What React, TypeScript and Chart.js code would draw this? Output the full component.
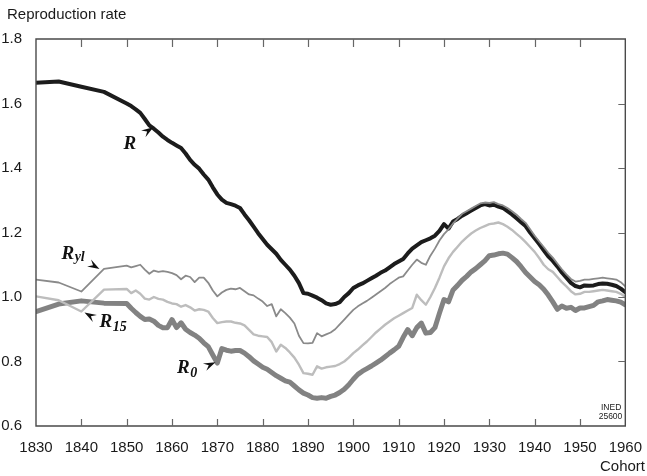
import { useEffect, useRef } from 'react';
import { Chart, registerables } from 'chart.js';

Chart.register(...registerables);

// Cohort years: quinquennial to 1850, then annual
const years = [
  1830, 1835, 1840, 1845, 1850,
  1851, 1852, 1853, 1854, 1855, 1856, 1857, 1858, 1859, 1860,
  1861, 1862, 1863, 1864, 1865, 1866, 1867, 1868, 1869, 1870,
  1871, 1872, 1873, 1874, 1875, 1876, 1877, 1878, 1879, 1880,
  1881, 1882, 1883, 1884, 1885, 1886, 1887, 1888, 1889, 1890,
  1891, 1892, 1893, 1894, 1895, 1896, 1897, 1898, 1899, 1900,
  1901, 1902, 1903, 1904, 1905, 1906, 1907, 1908, 1909, 1910,
  1911, 1912, 1913, 1914, 1915, 1916, 1917, 1918, 1919, 1920,
  1921, 1922, 1923, 1924, 1925, 1926, 1927, 1928, 1929, 1930,
  1931, 1932, 1933, 1934, 1935, 1936, 1937, 1938, 1939, 1940,
  1941, 1942, 1943, 1944, 1945, 1946, 1947, 1948, 1949, 1950,
  1951, 1952, 1953, 1954, 1955, 1956, 1957, 1958, 1959, 1960,
];

// R : gross reproduction rate
const rGross = [
  1.664, 1.668, 1.652, 1.636, 1.600,
  1.592, 1.582, 1.571, 1.552, 1.532, 1.522, 1.510, 1.497, 1.487, 1.478,
  1.470, 1.462, 1.445, 1.425, 1.410, 1.398, 1.380, 1.364, 1.340, 1.318,
  1.302, 1.292, 1.288, 1.283, 1.276, 1.256, 1.238, 1.218, 1.198, 1.180,
  1.162, 1.148, 1.134, 1.115, 1.100, 1.085, 1.066, 1.043, 1.012, 1.010,
  1.004, 0.998, 0.990, 0.980, 0.976, 0.978, 0.984, 1.000, 1.012, 1.028,
  1.036, 1.042, 1.050, 1.058, 1.066, 1.075, 1.082, 1.092, 1.102, 1.110,
  1.118, 1.135, 1.150, 1.160, 1.170, 1.176, 1.182, 1.190, 1.205, 1.226,
  1.212, 1.234, 1.242, 1.252, 1.260, 1.268, 1.276, 1.284, 1.288, 1.284,
  1.286, 1.280, 1.276, 1.266, 1.256, 1.244, 1.232, 1.220, 1.200, 1.182,
  1.164, 1.145, 1.126, 1.112, 1.095, 1.076, 1.060, 1.044, 1.034, 1.030,
  1.036, 1.035, 1.036, 1.040, 1.042, 1.041, 1.038, 1.034, 1.026, 1.015,
];

// R_yl
const rYl = [
  1.054, 1.045, 1.017, 1.087, 1.097,
  1.092, 1.096, 1.100, 1.085, 1.072, 1.082, 1.078, 1.080, 1.078, 1.074,
  1.068, 1.055, 1.066, 1.062, 1.046, 1.060, 1.060, 1.044, 1.020, 1.002,
  1.014, 1.022, 1.026, 1.024, 1.028, 1.018, 1.008, 1.005, 0.995, 0.986,
  0.972, 0.978, 0.940, 0.962, 0.950, 0.936, 0.918, 0.880, 0.857, 0.856,
  0.858, 0.888, 0.878, 0.884, 0.890, 0.900, 0.915, 0.930, 0.945, 0.960,
  0.971, 0.980, 0.988, 0.998, 1.008, 1.018, 1.028, 1.040, 1.050, 1.060,
  1.064, 1.082, 1.100, 1.116, 1.106, 1.100, 1.128, 1.150, 1.175, 1.195,
  1.210, 1.228, 1.243, 1.258, 1.266, 1.274, 1.282, 1.290, 1.293, 1.292,
  1.294, 1.288, 1.284, 1.276, 1.266, 1.255, 1.242, 1.230, 1.210, 1.190,
  1.172, 1.155, 1.137, 1.122, 1.104, 1.086, 1.070, 1.056, 1.048, 1.050,
  1.054, 1.054, 1.056, 1.058, 1.060, 1.058, 1.056, 1.054, 1.046, 1.033,
];

// R_15
const r15 = [
  1.002, 0.990, 0.955, 1.023, 1.025,
  1.012, 1.020, 1.010, 0.995, 0.992, 1.000, 0.994, 0.992, 0.985, 0.980,
  0.978, 0.970, 0.975, 0.968, 0.958, 0.962, 0.960, 0.955, 0.935, 0.919,
  0.922, 0.924, 0.924, 0.920, 0.918, 0.912, 0.898, 0.884, 0.880, 0.878,
  0.876, 0.860, 0.831, 0.852, 0.842, 0.828, 0.812, 0.790, 0.764, 0.762,
  0.759, 0.785, 0.778, 0.782, 0.784, 0.786, 0.792, 0.800, 0.812, 0.826,
  0.837, 0.850, 0.862, 0.876, 0.890, 0.902, 0.914, 0.924, 0.934, 0.942,
  0.950, 0.958, 0.966, 1.007, 0.990, 0.976, 1.000, 1.028, 1.060, 1.095,
  1.120, 1.140, 1.156, 1.172, 1.185, 1.197, 1.206, 1.214, 1.220, 1.226,
  1.228, 1.231, 1.226, 1.218, 1.208, 1.196, 1.184, 1.170, 1.155, 1.140,
  1.121, 1.100, 1.086, 1.078, 1.062, 1.046, 1.033, 1.018, 1.008, 1.010,
  1.016, 1.016, 1.018, 1.020, 1.022, 1.020, 1.018, 1.016, 1.010, 1.000,
];

// R_0 : net reproduction rate
const r0 = [
  0.955, 0.978, 0.988, 0.981, 0.980,
  0.965, 0.952, 0.940, 0.930, 0.932, 0.925, 0.912, 0.905, 0.905, 0.930,
  0.905, 0.920, 0.900, 0.890, 0.882, 0.872, 0.858, 0.846, 0.820, 0.795,
  0.840, 0.835, 0.832, 0.834, 0.834, 0.826, 0.815, 0.802, 0.792, 0.782,
  0.776, 0.766, 0.756, 0.748, 0.740, 0.736, 0.724, 0.712, 0.702, 0.696,
  0.688, 0.686, 0.688, 0.686, 0.692, 0.696, 0.704, 0.714, 0.728, 0.745,
  0.760, 0.770, 0.778, 0.786, 0.795, 0.804, 0.815, 0.826, 0.836, 0.847,
  0.875, 0.899, 0.880, 0.905, 0.919, 0.888, 0.890, 0.905, 0.950, 0.992,
  0.985, 1.022, 1.036, 1.052, 1.064, 1.078, 1.088, 1.100, 1.112, 1.128,
  1.130, 1.134, 1.136, 1.133, 1.122, 1.110, 1.094, 1.076, 1.062, 1.048,
  1.038, 1.024, 1.006, 0.985, 0.962, 0.972, 0.965, 0.968, 0.958, 0.966,
  0.966, 0.970, 0.974, 0.985, 0.988, 0.992, 0.990, 0.988, 0.984, 0.976,
];

const xTicks = [1830, 1840, 1850, 1860, 1870, 1880, 1890, 1900, 1910, 1920, 1930, 1940, 1950, 1960];
const yTicks = [0.6, 0.8, 1.0, 1.2, 1.4, 1.6, 1.8];

const yTitle = 'Reproduction rate';
const xTitle = 'Cohort';
const sourceNote = ['INED', '25600'];

// Series labels: arrow tip in data units, arrow direction and text offsets in px
const seriesLabels = [
  { main: 'R', sub: '', year: 1855.9, value: 1.526, dx: 14, dy: -9, tx: -30, ty: 22, subDy: 0 },
  { main: 'R', sub: 'yl', year: 1844.0, value: 1.087, dx: 13, dy: 7.5, tx: -38, ty: -10, subDy: 2 },
  { main: 'R', sub: '15', year: 1840.7, value: 0.952, dx: -12, dy: -7, tx: 15, ty: 14.5, subDy: 4.5 },
  { main: 'R', sub: '0', year: 1869.6, value: 0.798, dx: 15, dy: -7, tx: -38.5, ty: 10.8, subDy: 3.6 },
];

const SANS = '"Liberation Sans", Arial, Helvetica, sans-serif';
const SERIF = '"Liberation Serif", "Times New Roman", Times, serif';

const framePlugin = {
  id: 'frameAndNotes',
  afterDatasetsDraw(chart: any) {
    const { ctx, chartArea } = chart;
    const { left, right, top, bottom } = chartArea;
    const xs = chart.scales.x;
    const ys = chart.scales.y;
    ctx.save();
    // frame
    ctx.strokeStyle = '#4a4a4a';
    ctx.lineWidth = 1.4;
    ctx.beginPath();
    ctx.rect(left, top, right - left, bottom - top);
    ctx.stroke();
    // inward ticks
    ctx.strokeStyle = '#666';
    ctx.lineWidth = 1.2;
    ctx.beginPath();
    xTicks.forEach((t) => {
      if (t === xTicks[0] || t === xTicks[xTicks.length - 1]) return;
      const px = Math.round(xs.getPixelForValue(t)) + 0.5;
      ctx.moveTo(px, top);
      ctx.lineTo(px, top + 8);
      ctx.moveTo(px, bottom);
      ctx.lineTo(px, bottom - 7);
    });
    yTicks.forEach((t, i) => {
      if (i === 0 || i === yTicks.length - 1) return;
      const py = Math.round(ys.getPixelForValue(t)) + 0.5;
      ctx.moveTo(right, py);
      ctx.lineTo(right - 7, py);
    });
    ctx.stroke();

    // titles
    ctx.fillStyle = '#1a1a1a';
    ctx.font = `15px ${SANS}`;
    ctx.textBaseline = 'alphabetic';
    ctx.textAlign = 'left';
    ctx.fillText(yTitle, 7, 19);
    ctx.textAlign = 'right';
    ctx.fillText(xTitle, 645, 471);
    ctx.font = `8.5px ${SANS}`;
    ctx.fillText(sourceNote[0], right - 4, 410);
    ctx.fillText(sourceNote[1], right - 3, 418.5);

    // series labels with arrowheads
    ctx.fillStyle = '#111';
    seriesLabels.forEach((l) => {
      const tipX = xs.getPixelForValue(l.year);
      const tipY = ys.getPixelForValue(l.value);
      const ang = Math.atan2(l.dy, l.dx);
      const len = 12;
      const hw = 4;
      ctx.save();
      ctx.translate(tipX, tipY);
      ctx.rotate(ang);
      ctx.beginPath();
      ctx.moveTo(0, 0);
      ctx.lineTo(-len, -hw);
      ctx.lineTo(-len * 0.62, 0);
      ctx.lineTo(-len, hw);
      ctx.closePath();
      ctx.fill();
      ctx.restore();

      ctx.textAlign = 'left';
      ctx.font = `bold italic 19px ${SERIF}`;
      const bx = tipX + l.tx;
      const by = tipY + l.ty;
      ctx.fillText(l.main, bx, by);
      if (l.sub) {
        const w = ctx.measureText(l.main).width;
        ctx.font = `bold italic 14px ${SERIF}`;
        ctx.fillText(l.sub, bx + w + 0.5, by + l.subDy);
      }
    });
    ctx.restore();
  },
};

function toPoints(vals: number[]) {
  return years.map((y, i) => ({ x: y, y: vals[i] }));
}

export default function App() {
  const ref = useRef<HTMLCanvasElement | null>(null);

  useEffect(() => {
    if (!ref.current) return;
    const common = {
      pointRadius: 0,
      pointHoverRadius: 0,
      tension: 0,
      fill: false,
      borderJoinStyle: 'round' as const,
      borderCapStyle: 'round' as const,
    };
    const chart = new Chart(ref.current, {
      type: 'line',
      data: {
        datasets: [
          { ...common, label: 'R_yl', data: toPoints(rYl), borderColor: '#8a8a8a', borderWidth: 1.8, order: 0 },
          { ...common, label: 'R', data: toPoints(rGross), borderColor: '#1c1c1c', borderWidth: 4, order: 1 },
          { ...common, label: 'R_15', data: toPoints(r15), borderColor: '#bdbdbd', borderWidth: 2.4, order: 2 },
          { ...common, label: 'R_0', data: toPoints(r0), borderColor: '#828282', borderWidth: 5, order: 3 },
        ],
      },
      options: {
        responsive: false,
        animation: false,
        devicePixelRatio: 1,
        layout: { padding: { top: 39, right: 18, left: 0, bottom: 0 } },
        plugins: {
          legend: { display: false },
          tooltip: { enabled: false },
          title: { display: false },
        },
        events: [],
        scales: {
          x: {
            type: 'linear',
            min: 1830,
            max: 1960,
            grid: { display: false },
            border: { display: false },
            afterBuildTicks: (s: any) => {
              s.ticks = xTicks.map((v) => ({ value: v }));
            },
            afterFit: (s: any) => {
              s.height = 50;
            },
            ticks: {
              autoSkip: false,
              maxRotation: 0,
              padding: 5,
              color: '#1a1a1a',
              font: { family: SANS, size: 15 },
              callback: (v: any) => String(v),
            },
          },
          y: {
            type: 'linear',
            min: 0.6,
            max: 1.8,
            grid: { display: false },
            border: { display: false },
            afterBuildTicks: (s: any) => {
              s.ticks = yTicks.map((v) => ({ value: v }));
            },
            afterFit: (s: any) => {
              s.width = 36;
            },
            ticks: {
              padding: 6,
              color: '#1a1a1a',
              font: { family: SANS, size: 15 },
              callback: (v: any) => Number(v).toFixed(1),
            },
          },
        },
      } as any,
      plugins: [framePlugin],
    });
    return () => chart.destroy();
  }, []);

  return (
    <div style={{ position: 'absolute', left: 0, top: 0, width: 647, height: 476, background: '#fff' }}>
      <canvas ref={ref} width={647} height={476} style={{ display: 'block' }} />
    </div>
  );
}
